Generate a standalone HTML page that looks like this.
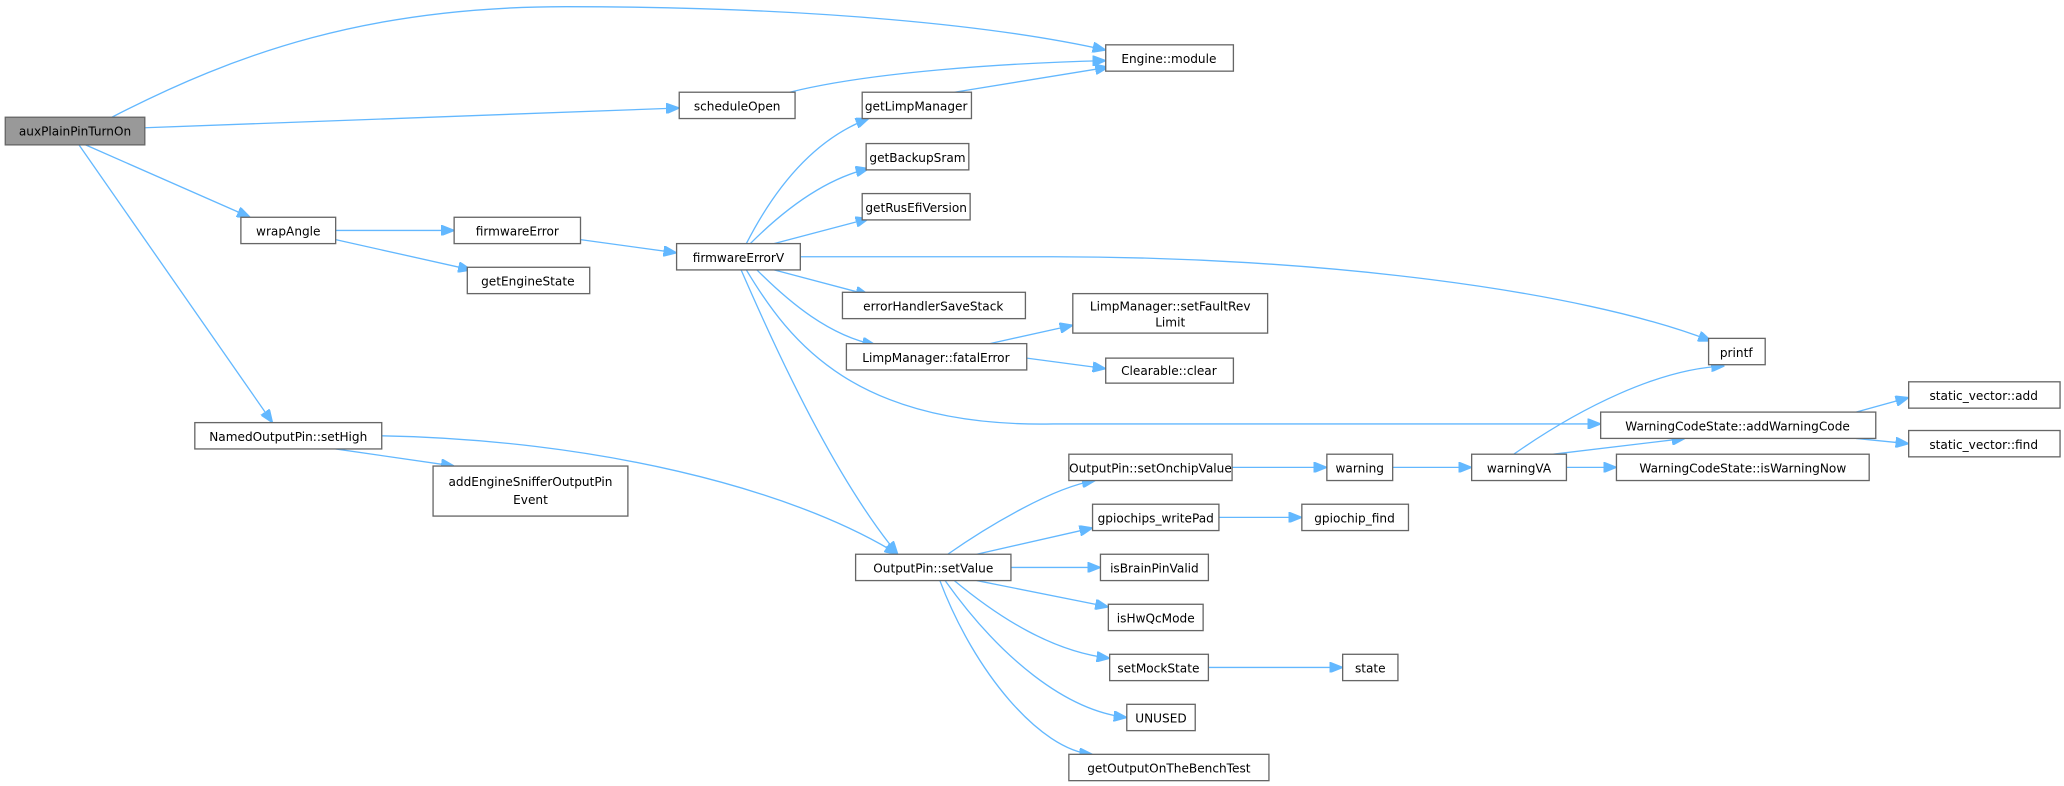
<!DOCTYPE html>
<html><head><meta charset="utf-8"><style>
html,body{margin:0;padding:0;background:#fff;}
svg{display:block;}
text{font-family:"DejaVu Sans","Liberation Sans",sans-serif;font-size:9.2px;fill:#000;text-anchor:middle;}
rect{fill:#fff;stroke:#666;stroke-width:1;}
path{fill:none;stroke:#63b8ff;stroke-width:1;}
</style></head><body>
<svg width="2064" height="786" viewBox="0 0 1568 597" xmlns="http://www.w3.org/2000/svg">
<defs><marker id="a" markerWidth="10" markerHeight="8" refX="10" refY="4" orient="auto" markerUnits="userSpaceOnUse"><path d="M0,0 L10,4 L0,8 Z" style="fill:#63b8ff;stroke:#63b8ff"/></marker></defs>
<g marker-end="url(#a)">
<path d="M85,89 C180,40 280,5 430,5 C620,5 760,20 840,38"/>
<path d="M110,97 L516,82"/>
<path d="M65,110 L190,165"/>
<path d="M60,110 L207,321"/>
<path d="M600,70 C660,55 760,48 840,46"/>
<path d="M725,70 L842,51"/>
<path d="M255,175 L345,175"/>
<path d="M255,182 L358,205"/>
<path d="M441,182 L514,192"/>
<path d="M567,185 C590,140 620,105 660,90"/>
<path d="M570,185 C600,155 630,135 660,128"/>
<path d="M588,185 L660,166"/>
<path d="M608,195 L800,195 C1000,195 1200,220 1300,259"/>
<path d="M588,205 L660,224"/>
<path d="M575,205 C600,230 630,255 665,262"/>
<path d="M567,205 C600,260 650,325 800,322 L1216,322"/>
<path d="M563,205 C600,290 640,370 682,421"/>
<path d="M752,261 L815,247"/>
<path d="M780,272 L840,280"/>
<path d="M290,331 C450,334 600,370 682,421"/>
<path d="M255,341 L345,354"/>
<path d="M720,421 C750,400 800,370 832,365"/>
<path d="M742,421 L830,401"/>
<path d="M768,431 L836,431"/>
<path d="M742,441 L842,461"/>
<path d="M725,441 C760,470 800,495 843,500"/>
<path d="M718,441 C760,500 810,540 856,545"/>
<path d="M714,441 C740,510 790,570 830,573"/>
<path d="M936,355 L1008,355"/>
<path d="M926,393 L989,393"/>
<path d="M918,507 L1020,507"/>
<path d="M1058,355 L1118,355"/>
<path d="M1150,345 C1200,310 1260,280 1310,278"/>
<path d="M1180,345 L1280,333"/>
<path d="M1190,355 L1228,355"/>
<path d="M1410,313 L1450,302"/>
<path d="M1410,333 L1450,337"/>
</g>
<rect x="4" y="89" width="106" height="21" style="fill:#999"/><text x="57" y="103">auxPlainPinTurnOn</text>
<rect x="840" y="34" width="97" height="20"/><text x="888" y="48">Engine::module</text>
<rect x="516" y="70" width="88" height="20"/><text x="560" y="84">scheduleOpen</text>
<rect x="655" y="70" width="83" height="20"/><text x="696" y="84">getLimpManager</text>
<rect x="658" y="109" width="78" height="20"/><text x="697" y="123">getBackupSram</text>
<rect x="655" y="147" width="82" height="20"/><text x="696" y="161">getRusEfiVersion</text>
<rect x="183" y="165" width="72" height="20"/><text x="219" y="179">wrapAngle</text>
<rect x="345" y="165" width="96" height="20"/><text x="393" y="179">firmwareError</text>
<rect x="355" y="203" width="93" height="20"/><text x="401" y="217">getEngineState</text>
<rect x="514" y="185" width="94" height="20"/><text x="561" y="199">firmwareErrorV</text>
<rect x="640" y="222" width="139" height="20"/><text x="709" y="236">errorHandlerSaveStack</text>
<rect x="815" y="223" width="148" height="30"/><text x="889" y="236">LimpManager::setFaultRev</text><text x="889" y="248">Limit</text>
<rect x="643" y="261" width="137" height="20"/><text x="711" y="275">LimpManager::fatalError</text>
<rect x="840" y="272" width="97" height="19"/><text x="888" y="285">Clearable::clear</text>
<rect x="1298" y="257" width="43" height="20"/><text x="1319" y="271">printf</text>
<rect x="1216" y="313" width="209" height="20"/><text x="1320" y="327">WarningCodeState::addWarningCode</text>
<rect x="1450" y="290" width="115" height="20"/><text x="1507" y="304">static_vector::add</text>
<rect x="1450" y="327" width="115" height="20"/><text x="1507" y="341">static_vector::find</text>
<rect x="1008" y="345" width="50" height="20"/><text x="1033" y="359">warning</text>
<rect x="1118" y="345" width="72" height="20"/><text x="1154" y="359">warningVA</text>
<rect x="1228" y="345" width="192" height="20"/><text x="1324" y="359">WarningCodeState::isWarningNow</text>
<rect x="812" y="345" width="124" height="20"/><text x="874" y="359">OutputPin::setOnchipValue</text>
<rect x="830" y="383" width="96" height="20"/><text x="878" y="397">gpiochips_writePad</text>
<rect x="989" y="383" width="81" height="20"/><text x="1029" y="397">gpiochip_find</text>
<rect x="836" y="421" width="82" height="20"/><text x="877" y="435">isBrainPinValid</text>
<rect x="842" y="459" width="72" height="20"/><text x="878" y="473">isHwQcMode</text>
<rect x="843" y="497" width="75" height="20"/><text x="880" y="511">setMockState</text>
<rect x="1020" y="497" width="42" height="20"/><text x="1041" y="511">state</text>
<rect x="856" y="535" width="52" height="20"/><text x="882" y="549">UNUSED</text>
<rect x="812" y="573" width="152" height="20"/><text x="888" y="587">getOutputOnTheBenchTest</text>
<rect x="650" y="421" width="118" height="20"/><text x="709" y="435">OutputPin::setValue</text>
<rect x="148" y="321" width="142" height="20"/><text x="219" y="335">NamedOutputPin::setHigh</text>
<rect x="329" y="354" width="148" height="38"/><text x="403" y="369">addEngineSnifferOutputPin</text><text x="403" y="383">Event</text>
</svg>
</body></html>
